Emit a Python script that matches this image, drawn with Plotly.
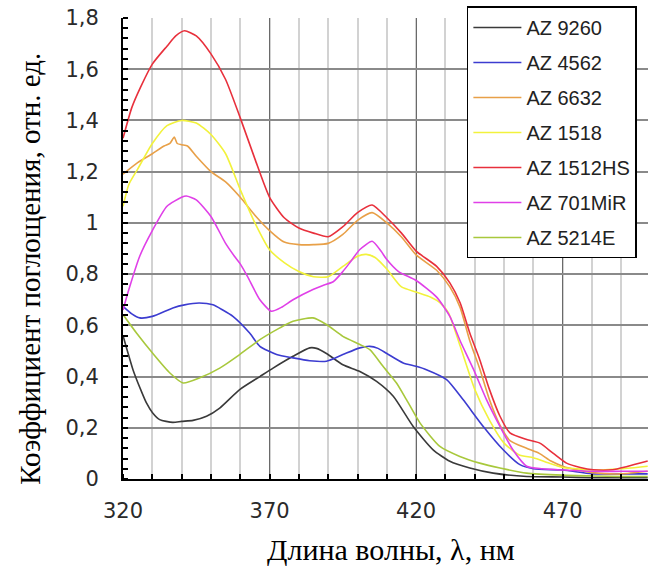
import plotly.graph_objects as go

# ---- data ----
names = ["AZ 9260", "AZ 4562", "AZ 6632", "AZ 1518", "AZ 1512HS", "AZ 701MiR", "AZ 5214E"]
colors = ["#3a3a3a", "#3c3cd0", "#e8a048", "#f2f23c", "#e8303c", "#e040e8", "#a8c83c"]

wl_9260 = [320, 321.5, 323.4, 326, 328, 330, 332.5, 337, 340, 343.9, 348.5, 353, 359.8, 366.7, 371.2, 378,
           383.7, 386, 389.4, 395, 400.8, 406.5, 412.2, 419, 425.8, 431.5, 438.3, 446.3, 457.7, 470, 480, 490, 499]
ab_9260 = [0.56, 0.50, 0.427, 0.35, 0.297, 0.26, 0.232, 0.221, 0.225, 0.229, 0.245, 0.277, 0.349, 0.40, 0.433, 0.479,
           0.512, 0.51, 0.49, 0.446, 0.42, 0.381, 0.323, 0.205, 0.114, 0.069, 0.043, 0.023, 0.01, 0.008, 0.005, 0.005, 0.005]

wl_4562 = [320, 323, 325.7, 330, 337, 341, 346, 350.7, 354, 357.5, 363.2, 366.7, 372.4, 378, 383.7, 389.4, 395,
           400.8, 404.2, 407, 410, 415.6, 420, 423.5, 430.4, 436, 442.9, 449.7, 455.4, 460, 470, 480, 490, 499]
ab_4562 = [0.674, 0.645, 0.629, 0.635, 0.668, 0.68, 0.687, 0.68, 0.66, 0.635, 0.57, 0.518, 0.486, 0.473, 0.462, 0.46, 0.486,
           0.512, 0.518, 0.51, 0.49, 0.453, 0.44, 0.427, 0.388, 0.31, 0.205, 0.114, 0.056, 0.04, 0.035, 0.02, 0.02, 0.02]

wl_6632 = [320, 325, 330, 334, 336, 337.5, 338.5, 340, 342, 345, 350, 355, 360, 365, 370, 375, 380, 385, 390, 395,
           400, 405, 410, 415, 420, 427, 431.5, 435, 438.3, 441.7, 445, 448.6, 452, 457.7, 462, 466, 470, 475, 480, 490, 499]
ab_6632 = [1.19, 1.235, 1.27, 1.30, 1.31, 1.335, 1.31, 1.305, 1.30, 1.26, 1.20, 1.16, 1.10, 1.03, 0.97, 0.925, 0.915,
           0.915, 0.92, 0.955, 1.01, 1.04, 1.00, 0.945, 0.875, 0.815, 0.75, 0.67, 0.54, 0.43, 0.31, 0.21, 0.15, 0.12,
           0.10, 0.07, 0.05, 0.035, 0.025, 0.02, 0.03]

wl_1518 = [320, 322, 325, 330, 335, 340, 345, 350, 355, 360, 365, 370, 375, 380, 385, 390, 395, 400, 403, 406,
           410, 415, 420, 425, 428, 431, 435, 440, 445, 450, 455, 460, 465, 470, 475, 480, 490, 499]
ab_1518 = [1.065, 1.15, 1.21, 1.31, 1.38, 1.40, 1.39, 1.345, 1.27, 1.13, 1.00, 0.895, 0.845, 0.81, 0.79, 0.79, 0.83,
           0.87, 0.877, 0.865, 0.82, 0.75, 0.73, 0.71, 0.69, 0.65, 0.52, 0.35, 0.23, 0.14, 0.095, 0.083, 0.063, 0.045,
           0.04, 0.035, 0.04, 0.05]

wl_1512hs = [320, 323, 326, 330, 335, 338, 341, 345, 350, 355, 360, 365, 370, 375, 380, 385, 390, 395, 400, 405,
             410, 415, 420, 427, 431.5, 435, 438.3, 441.7, 445, 448.6, 452, 457.7, 462.2, 466.8, 471.3, 476, 480.4,
             487, 492, 499]
ab_1512hs = [1.33, 1.45, 1.53, 1.62, 1.69, 1.73, 1.75, 1.73, 1.66, 1.56, 1.41, 1.25, 1.10, 1.02, 0.98, 0.96, 0.946,
             0.985, 1.04, 1.07, 1.02, 0.96, 0.89, 0.83, 0.766, 0.688, 0.57, 0.466, 0.35, 0.245, 0.18, 0.154, 0.14,
             0.10, 0.062, 0.045, 0.036, 0.036, 0.049, 0.07]

wl_701mir = [320, 322, 325.7, 330, 335, 340, 341.6, 345, 350, 355, 358, 360, 362.5, 366.7, 370.6, 374, 378, 384.8,
             388, 391.7, 395, 397.4, 400.8, 405, 408, 410, 414, 420, 427, 431.5, 435, 439.5, 444, 448.6, 453, 457.7,
             463, 470, 480, 490, 499]
ab_701mir = [0.66, 0.74, 0.87, 0.97, 1.065, 1.10, 1.105, 1.09, 1.025, 0.92, 0.87, 0.84, 0.79, 0.70, 0.655, 0.67, 0.70,
             0.74, 0.755, 0.77, 0.81, 0.845, 0.896, 0.928, 0.89, 0.857, 0.81, 0.775, 0.71, 0.635, 0.54, 0.43, 0.31,
             0.205, 0.114, 0.05, 0.04, 0.035, 0.03, 0.03, 0.03]

wl_5214e = [320, 324.6, 330.2, 336, 340.5, 346.2, 353, 359.8, 366.7, 373.5, 378, 384.8, 389.4, 395, 400.8, 404.2,
            408.7, 413.3, 416.7, 421.3, 428.1, 434.9, 441.7, 448.6, 457.7, 470, 480, 490, 499]
ab_5214e = [0.642, 0.57, 0.49, 0.414, 0.375, 0.395, 0.433, 0.486, 0.544, 0.59, 0.616, 0.629, 0.603, 0.557, 0.525,
            0.505, 0.44, 0.375, 0.31, 0.219, 0.127, 0.088, 0.062, 0.043, 0.023, 0.015, 0.012, 0.01, 0.01]

x_series = [wl_9260, wl_4562, wl_6632, wl_1518, wl_1512hs, wl_701mir, wl_5214e]
y_series = [ab_9260, ab_4562, ab_6632, ab_1518, ab_1512hs, ab_701mir, ab_5214e]

x_tickvals = [320, 370, 420, 470]
y_tickvals = [0, 0.2, 0.4, 0.6, 0.8, 1.0, 1.2, 1.4, 1.6, 1.8]
y_ticktext = ["0", "0,2", "0,4", "0,6", "0,8", "1", "1,2", "1,4", "1,6", "1,8"]

fig = go.Figure()
for i, (nm, xs, ys) in enumerate(zip(names, x_series, y_series)):
    fig.add_trace(go.Scatter(
        x=xs, y=ys, name=nm, mode="lines", legendgroup=nm,
        line=dict(color=colors[i], width=1.6, shape="spline", smoothing=0.6),
    ))

tickfont = dict(family="DejaVu Sans", size=21, color="#2a2a2a")

fig.update_layout(
    width=648, height=566,
    margin=dict(l=123, r=0, t=18, b=87, autoexpand=False),
    paper_bgcolor="white", plot_bgcolor="white",
    showlegend=True,
    legend=dict(
        x=0.655, y=1.025, xanchor="left", yanchor="top",
        bgcolor="white", bordercolor="black", borderwidth=1.5,
        font=dict(family="Liberation Sans", size=20, color="#222"),
        tracegroupgap=6, itemwidth=48,
    ),
    xaxis=dict(
        range=[320, 499.1], tickmode="array", tickvals=x_tickvals,
        ticktext=[str(v) for v in x_tickvals],
        showgrid=True, gridcolor="#6a6a6a", gridwidth=1,
        showline=True, linecolor="black", linewidth=2, mirror=False,
        ticks="", zeroline=False, tickfont=tickfont, ticklabelstandoff=12,
        ticklabeloverflow="allow",
        minor=dict(dtick=10, tick0=320, showgrid=True, gridcolor="#d2d2d2", gridwidth=2,
                   ticks="inside", ticklen=5, tickcolor="black", tickwidth=1.5),
    ),
    yaxis=dict(
        range=[0, 1.8], tickmode="array", tickvals=y_tickvals, ticktext=y_ticktext,
        showgrid=True, gridcolor="#8a8a8a", gridwidth=1.5,
        showline=True, linecolor="black", linewidth=2, mirror=False,
        ticks="", zeroline=False, tickfont=tickfont, ticklabelstandoff=18,
        ticklabeloverflow="allow",
        minor=dict(dtick=0.04, tick0=0, showgrid=False,
                   ticks="inside", ticklen=5, tickcolor="black", tickwidth=1.5),
    ),
    annotations=[
        dict(text="Коэффициент поглощения, отн. ед.", xref="paper", yref="paper",
             x=-0.177, y=0.456, xanchor="center", yanchor="middle", textangle=-90, showarrow=False,
             font=dict(family="Liberation Serif", size=29, color="black")),
        dict(text="Длина волны, λ, нм", xref="paper", yref="paper",
             x=0.511, y=-0.152, xanchor="center", yanchor="middle", showarrow=False,
             font=dict(family="Liberation Serif", size=30, color="black")),
    ],
)

# remove the default page margin so the figure fills the window exactly
fig.write_html(
    "out.html",
    config={"displayModeBar": False},
    post_script="document.body.style.margin='0';document.body.style.overflow='hidden';",
)
